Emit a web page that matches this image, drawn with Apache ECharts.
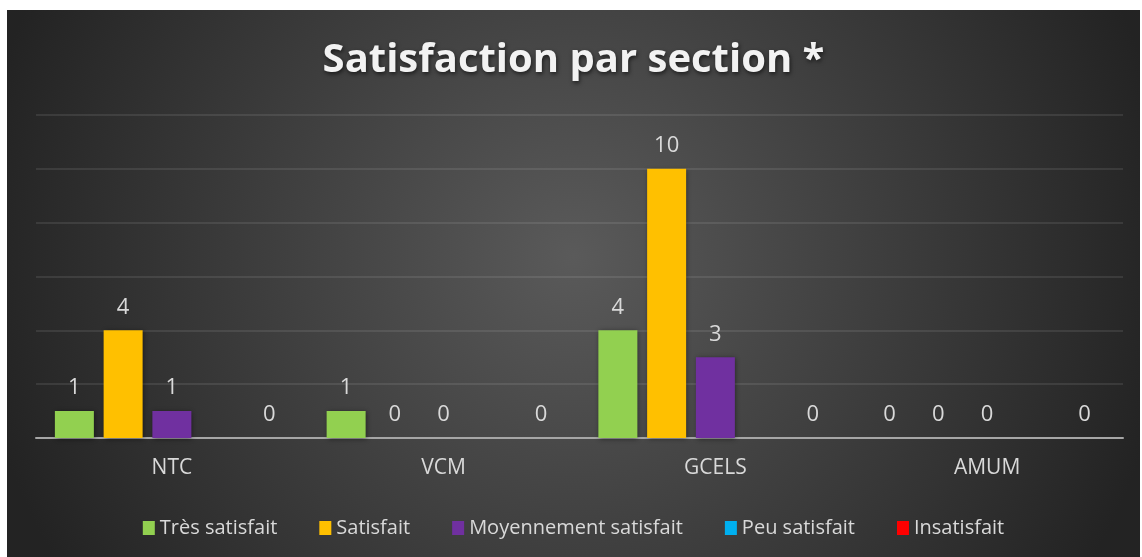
<!DOCTYPE html>
<html>
<head>
<meta charset="utf-8">
<script src="https://cdn.jsdelivr.net/npm/echarts@6/dist/echarts.min.js"></script>
<style>
    html, body { margin: 0; padding: 0; background: #ffffff; }
    #chartBox { position: absolute; left: 7px; top: 10px; width: 1133px; height: 547px; }
</style>
</head>
<body>
<div id="chartBox"></div>
<script>
// catégories et valeurs
var sections = ['NTC', 'VCM', 'GCELS', 'AMUM'];
var tresSatisfait = [1, 1, 4, 0];
var satisfait = [4, 0, 10, 0];
var moyennement = [1, 0, 3, 0];
var peuSatisfait = [null, null, null, null];
var insatisfait = [0, 0, 0, 0];
var seriesNames = ['Très satisfait', 'Satisfait', 'Moyennement satisfait', 'Peu satisfait', 'Insatisfait'];
var seriesColors = ['#92d050', '#ffc000', '#7030a0', '#00b0f0', '#ff0000'];

var chartDom = document.getElementById('chartBox');
var myChart = echarts.init(chartDom);

function makeBar(idx, values) {
    return {
        name: seriesNames[idx],
        type: 'bar',
        data: values,
        barWidth: 39,
        barGap: '25%',
        itemStyle: {
            color: seriesColors[idx],
            shadowBlur: 5,
            shadowColor: 'rgba(0,0,0,0.45)',
            shadowOffsetX: 1,
            shadowOffsetY: 1
        },
        label: {
            show: true,
            position: 'top',
            distance: 12,
            color: '#d9d9d9',
            fontFamily: 'Open Sans',
            fontSize: 22
        }
    };
}

var option = {
    backgroundColor: {
        type: 'radial',
        x: 0.5, y: 0.45, r: 1.1,
        colorStops: [
            {offset: 0, color: '#5a5a5a'},
            {offset: 1, color: '#232323'}
        ]
    },
    title: {
        text: 'Satisfaction par section *',
        left: 'center',
        top: 26,
        textStyle: {
            color: '#f2f2f2',
            fontFamily: 'Open Sans',
            fontWeight: 'bold',
            fontSize: 40,
            textShadowColor: 'rgba(0,0,0,0.6)',
            textShadowBlur: 4,
            textShadowOffsetX: 1,
            textShadowOffsetY: 2
        }
    },
    legend: {
        data: seriesNames,
        bottom: 14,
        left: 'center',
        itemWidth: 12,
        itemHeight: 14,
        itemGap: 42,
        icon: 'rect',
        textStyle: {
            color: '#d9d9d9',
            fontFamily: 'Open Sans',
            fontSize: 20
        }
    },
    grid: {
        left: 29,
        right: 17,
        top: 105,
        bottom: 119
    },
    xAxis: {
        type: 'category',
        data: sections,
        axisLine: {lineStyle: {color: '#a6a6a6', width: 2}},
        axisTick: {show: false},
        axisLabel: {
            color: '#d9d9d9',
            fontFamily: 'Open Sans',
            fontSize: 21,
            margin: 20
        }
    },
    yAxis: {
        type: 'value',
        min: 0,
        max: 12,
        interval: 2,
        axisLabel: {show: false},
        axisLine: {show: false},
        axisTick: {show: false},
        splitLine: {lineStyle: {color: 'rgba(255,255,255,0.12)', width: 1.5}}
    },
    series: [
        makeBar(0, tresSatisfait),
        makeBar(1, satisfait),
        makeBar(2, moyennement),
        makeBar(3, peuSatisfait),
        makeBar(4, insatisfait)
    ]
};

option && myChart.setOption(option);
</script>
</body>
</html>
